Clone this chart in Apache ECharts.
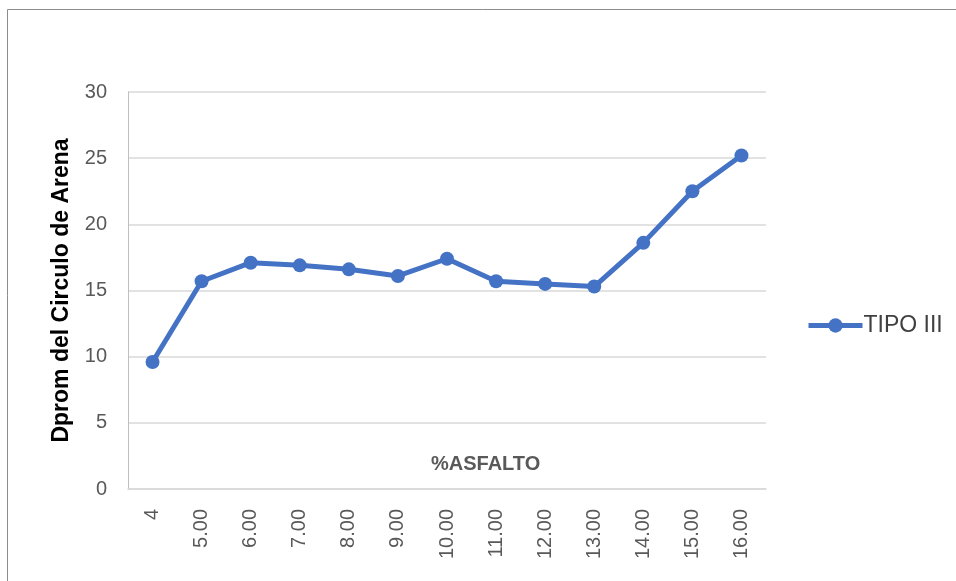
<!DOCTYPE html>
<html>
<head>
<meta charset="utf-8">
<script src="https://cdn.jsdelivr.net/npm/echarts@6/dist/echarts.min.js"></script>
<style>
html,body{margin:0;padding:0;background:#fff;}
#chart{width:956px;height:581px;}
</style>
</head>
<body>
<div id="chart"></div>
<script>
var categories = ['4','5.00','6.00','7.00','8.00','9.00','10.00','11.00','12.00','13.00','14.00','15.00','16.00'];
var tipoIII = [9.6, 15.7, 17.1, 16.9, 16.6, 16.1, 17.4, 15.7, 15.5, 15.3, 18.6, 22.5, 25.2];
var seriesName = 'TIPO III';
var yTitle = 'Dprom del Circulo de Arena';
var xTitle = '%ASFALTO';

var chart = echarts.init(document.getElementById('chart'), null, {renderer:'canvas'});
var font = 'Liberation Sans';
chart.setOption({
  animation: false,
  backgroundColor: '#ffffff',
  textStyle: {fontFamily: font},
  graphic: [{
    type: 'rect', silent: true,
    shape: {x: 7.5, y: 9.5, width: 1000, height: 700},
    style: {fill: 'none', stroke: '#8c8c8c', lineWidth: 1}
  }],
  title: {
    text: xTitle,
    left: 431, top: 454,
    padding: 0,
    textStyle: {fontFamily: font, fontSize: 20, fontWeight: 'bold', color: '#595959'}
  },
  grid: {left: 128, right: 190, top: 92, bottom: 92, containLabel: false},
  legend: {
    data: [seriesName],
    orient: 'vertical',
    left: 806, top: 314,
    padding: 0,
    itemWidth: 54, itemHeight: 18, itemGap: 10,
    lineStyle: {width: 5, color: '#4472c4'},
    itemStyle: {color: '#4472c4'},
    textStyle: {fontFamily: font, fontSize: 23, color: '#404040', padding: [0,0,0,-4]}
  },
  xAxis: {
    type: 'category',
    data: categories,
    boundaryGap: true,
    axisLine: {show: true, lineStyle: {color: '#d9d9d9', width: 1.5}},
    axisTick: {show: false},
    axisLabel: {rotate: 90, margin: 20, fontFamily: font, fontSize: 20, color: '#595959', interval: 0}
  },
  yAxis: {
    type: 'value',
    min: 0, max: 30, interval: 5,
    name: yTitle,
    nameLocation: 'middle',
    nameGap: 55,
    nameTextStyle: {fontFamily: font, fontSize: 23, fontWeight: 'bold', color: '#000000'},
    axisLine: {show: true, lineStyle: {color: '#bfbfbf', width: 1}},
    axisTick: {show: false},
    axisLabel: {margin: 21, fontFamily: font, fontSize: 20, color: '#595959'},
    splitLine: {show: true, lineStyle: {color: '#d9d9d9', width: 1.5}}
  },
  series: [{
    name: seriesName,
    type: 'line',
    data: tipoIII,
    symbol: 'circle',
    symbolSize: 14,
    itemStyle: {color: '#4472c4'},
    lineStyle: {color: '#4472c4', width: 5}
  }]
});
</script>
</body>
</html>
